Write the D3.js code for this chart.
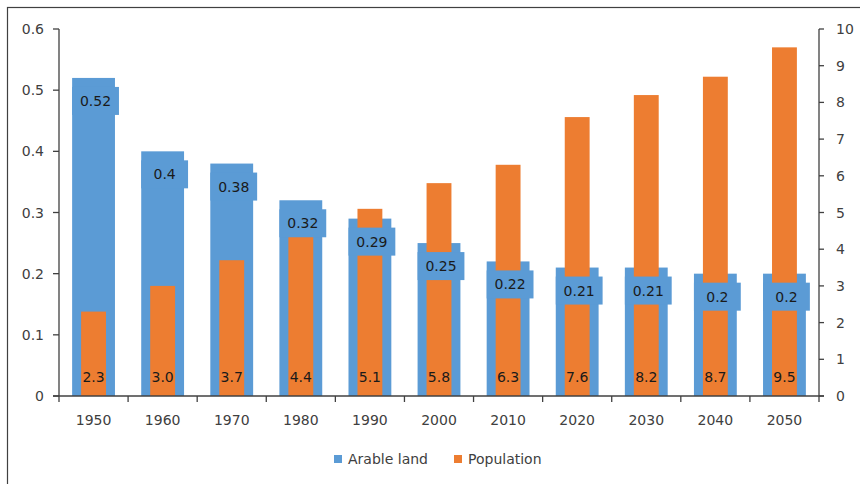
<!DOCTYPE html>
<html><head><meta charset="utf-8">
<script src="https://cdn.jsdelivr.net/npm/d3@7"></script>
<style>body{margin:0;background:#fff;} svg{display:block;font-family:"DejaVu Sans",sans-serif;}</style>
</head><body>
<svg id="c" width="860" height="484"></svg>
<script>
const years = ["1950","1960","1970","1980","1990","2000","2010","2020","2030","2040","2050"];
const arableLand = [0.52,0.4,0.38,0.32,0.29,0.25,0.22,0.21,0.21,0.2,0.2];
const population = [2.3,3.0,3.7,4.4,5.1,5.8,6.3,7.6,8.2,8.7,9.5];
const popLabels = ["2.3","3.0","3.7","4.4","5.1","5.8","6.3","7.6","8.2","8.7","9.5"];
const leftTicks = [0,0.1,0.2,0.3,0.4,0.5,0.6];
const rightTicks = [0,1,2,3,4,5,6,7,8,9,10];
const seriesNames = ["Arable land","Population"];

const BLUE="#5B9BD5", ORANGE="#ED7D31", AXIS="#404040", TXT="#404040", LBL="#1a1a1a";
const svg = d3.select("#c");
const L=59, R=819, T=29, B=396;

svg.append("rect").attr("x",7.5).attr("y",7.5).attr("width",900).attr("height",600)
  .attr("fill","none").attr("stroke","#404040").attr("stroke-width",1.2);

const x = d3.scaleBand().domain(years).range([L,R]).paddingInner(0).paddingOuter(0);
const yL = d3.scaleLinear().domain([0,0.6]).range([B,T]);
const yR = d3.scaleLinear().domain([0,10]).range([B,T]);
const bw = x.bandwidth();
const blueW = bw*0.62, orW = bw*0.36;

// blue bars
svg.append("g").selectAll("rect").data(years).join("rect")
  .attr("x",(d)=>x(d)+bw/2-blueW/2).attr("width",blueW)
  .attr("y",(d,i)=>yL(arableLand[i])).attr("height",(d,i)=>B-yL(arableLand[i]))
  .attr("fill",BLUE);
// orange bars
svg.append("g").selectAll("rect").data(years).join("rect")
  .attr("x",(d)=>x(d)+bw/2-orW/2).attr("width",orW)
  .attr("y",(d,i)=>yR(population[i])).attr("height",(d,i)=>B-yR(population[i]))
  .attr("fill",ORANGE);

// blue labels with blue boxes
const lg = svg.append("g").selectAll("g").data(years).join("g")
  .attr("transform",(d,i)=>`translate(${x(d)+bw/2},${yL(arableLand[i])+23})`);
lg.append("rect").attr("x",-blueW/2).attr("y",-14).attr("width",blueW+4).attr("height",28).attr("fill",BLUE);
lg.append("text").attr("x",2).attr("text-anchor","middle").attr("dy","0.36em").attr("font-size",14)
  .attr("fill",LBL).text((d,i)=>String(arableLand[i]));

// orange labels
svg.append("g").selectAll("text").data(years).join("text")
  .attr("x",(d)=>x(d)+bw/2).attr("y",B-19).attr("dy","0.36em")
  .attr("text-anchor","middle").attr("font-size",14).attr("fill",LBL)
  .text((d,i)=>popLabels[i]);

// axes
const ax = svg.append("g").attr("fill","none").attr("stroke",AXIS).attr("stroke-width",1.3);
ax.append("line").attr("x1",L).attr("x2",L).attr("y1",T).attr("y2",B);
ax.append("line").attr("x1",R).attr("x2",R).attr("y1",T).attr("y2",B);
ax.append("line").attr("x1",L-6).attr("x2",R+5).attr("y1",B).attr("y2",B);
leftTicks.forEach(t=>ax.append("line").attr("x1",L-6).attr("x2",L).attr("y1",yL(t)).attr("y2",yL(t)));
rightTicks.forEach(t=>ax.append("line").attr("x1",R).attr("x2",R+5).attr("y1",yR(t)).attr("y2",yR(t)));
years.concat(["end"]).forEach((d,i)=>{const xx=L+i*bw; ax.append("line").attr("x1",xx).attr("x2",xx).attr("y1",B).attr("y2",B+6);});

svg.append("g").selectAll("text").data(leftTicks).join("text")
  .attr("x",L-15).attr("y",d=>yL(d)).attr("dy","0.36em").attr("text-anchor","end")
  .attr("font-size",14).attr("fill",TXT).text(d=>d===0?"0":d3.format(".1f")(d));
svg.append("g").selectAll("text").data(rightTicks).join("text")
  .attr("x",R+17).attr("y",d=>yR(d)).attr("dy","0.36em").attr("text-anchor","start")
  .attr("font-size",14).attr("fill",TXT).text(d=>String(d));
svg.append("g").selectAll("text").data(years).join("text")
  .attr("x",d=>x(d)+bw/2).attr("y",B+24).attr("dy","0.36em").attr("text-anchor","middle")
  .attr("font-size",14).attr("fill",TXT).text(d=>d);

// legend
const leg = svg.append("g");
const legX=[334,454], colors=[BLUE,ORANGE];
seriesNames.forEach((n,i)=>{
  leg.append("rect").attr("x",legX[i]).attr("y",455).attr("width",8).attr("height",8).attr("fill",colors[i]);
  leg.append("text").attr("x",legX[i]+14).attr("y",459).attr("dy","0.36em").attr("font-size",14).attr("fill",TXT).text(n);
});
</script>
</body></html>
